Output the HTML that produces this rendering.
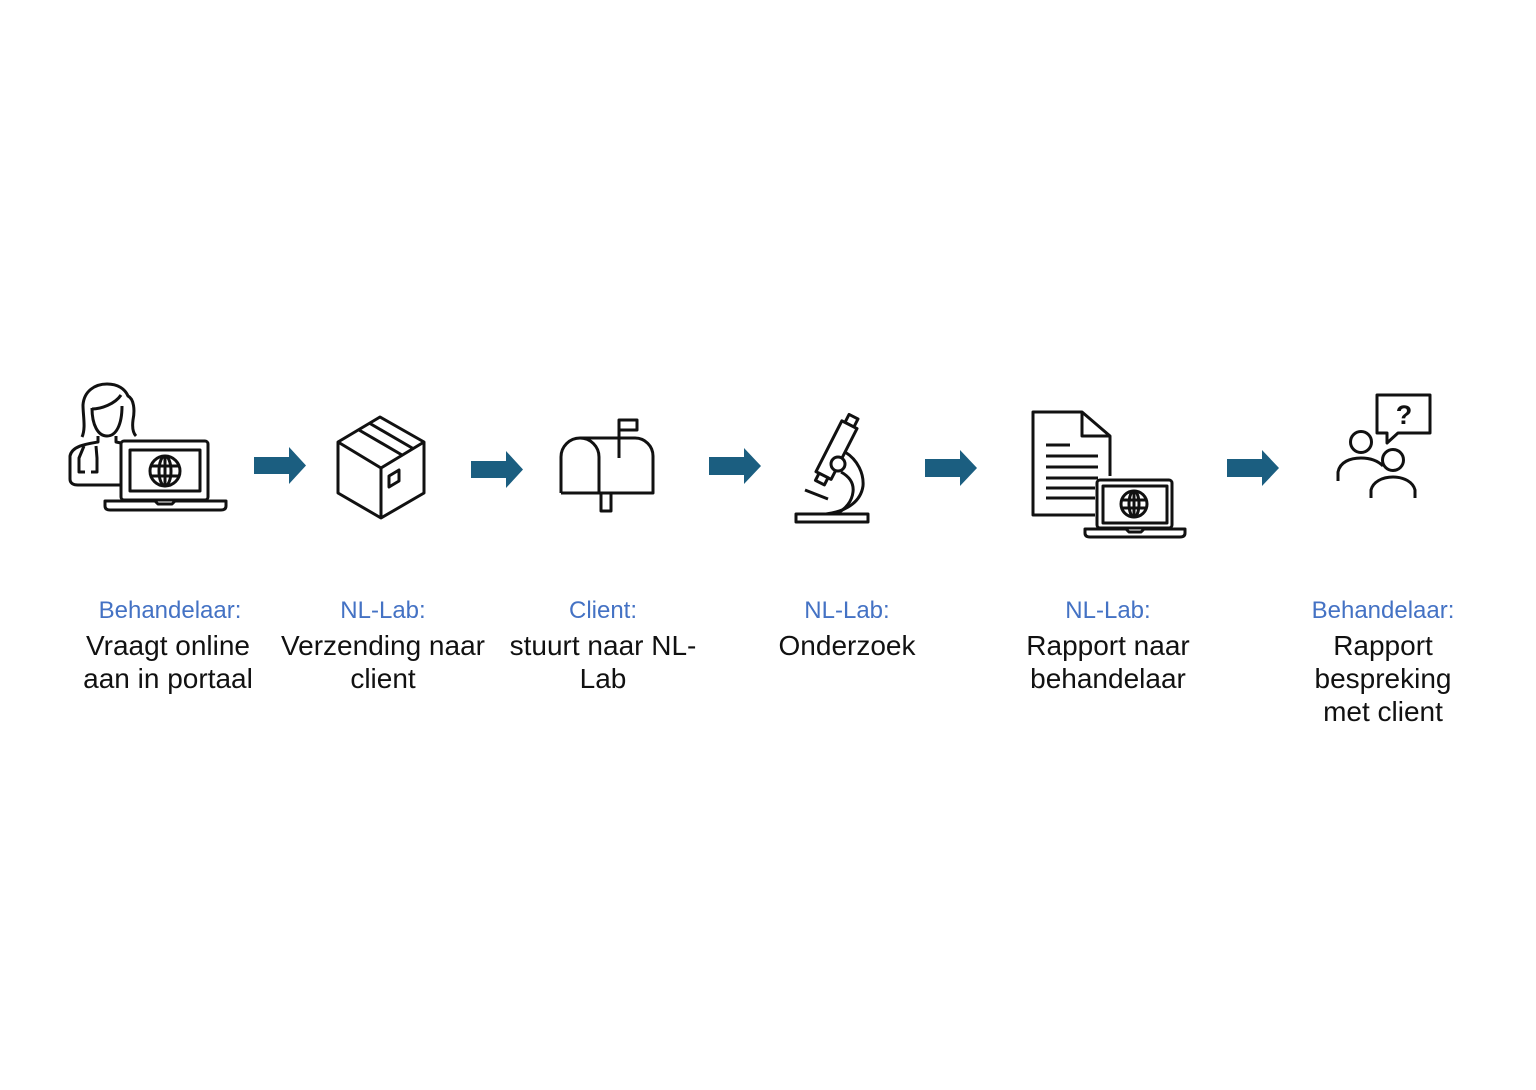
<!DOCTYPE html>
<html>
<head>
<meta charset="utf-8">
<style>
  html, body { margin: 0; padding: 0; background: #ffffff; }
  body { width: 1536px; height: 1090px; overflow: hidden; }
  svg { display: block; }
  .ic { fill: none; stroke: #111; stroke-width: 3; stroke-linejoin: round; stroke-linecap: butt; }
  .lbl { font-family: "Liberation Sans", sans-serif; font-size: 24px; fill: #4472c4; text-anchor: middle; }
  .txt { font-family: "Liberation Sans", sans-serif; font-size: 28px; fill: #111; text-anchor: middle; }
</style>
</head>
<body>
<svg width="1536" height="1090" viewBox="0 0 1536 1090" xmlns="http://www.w3.org/2000/svg">
  <rect x="0" y="0" width="1536" height="1090" fill="#ffffff"/>

  <!-- ===== Icon 1: doctor + laptop ===== -->
  <g class="ic">
    <!-- hair -->
    <path d="M82,437 C86,428 83,416 83,405 C84,391 95,384 107,384 C118,384 125,389 128,396 C134,399 135,410 133,420 C132,428 133,433 136,436"/>
    <!-- face -->
    <path d="M92,408 C92,425 98,436 107,436 C116,436 122,425 122,406"/>
    <path d="M92,409 C101,409 115,404 121,395"/>
    <!-- shoulders -->
    <path d="M98,436 L98,442 C86,444 72,446 70,456 L70,479 C70,483 73,485 78,485 L120,485"/>
    <path d="M116,436 L116,442 L121,443"/>
    <!-- stethoscope -->
    <path d="M84,446 L79,458 L79,472 L85,472"/>
    <path d="M96,446 L97,458 L97,472 L91,472"/>
    <!-- laptop -->
    <rect x="121" y="441" width="87" height="59" rx="3"/>
    <rect x="130" y="450" width="70" height="41"/>
    <circle cx="165" cy="471" r="15"/>
    <ellipse cx="165" cy="471" rx="6" ry="15"/>
    <line x1="150" y1="466" x2="180" y2="466"/>
    <line x1="150" y1="476" x2="180" y2="476"/>
    <line x1="165" y1="456" x2="165" y2="486"/>
    <path d="M105,501 L155,501 L158,504 L172,504 L175,501 L226,501 L226,506 C226,509 224,510 221,510 L110,510 C107,510 105,509 105,506 Z"/>
  </g>

  <!-- ===== Icon 2: box ===== -->
  <g class="ic">
    <polygon points="380,417 424,442 424,493 381,518 338,493 338,442"/>
    <polyline points="338,442 381,468 424,442"/>
    <line x1="381" y1="468" x2="381" y2="518"/>
    <line x1="359" y1="430" x2="402" y2="455"/>
    <line x1="370" y1="423.5" x2="413" y2="448.5"/>
    <polygon points="389,476 399,470 399,481 389,487"/>
  </g>

  <!-- ===== Icon 3: mailbox ===== -->
  <g class="ic">
    <path d="M561,493 L561,457 A19,19 0 0 1 599,457 L599,493"/>
    <path d="M580,438 L635,438 A18,18 0 0 1 653,456 L653,493 L561,493"/>
    <path d="M619,458 L619,420 L637,420 L637,430 L619,430"/>
    <rect x="601" y="493" width="10" height="18"/>
  </g>

  <!-- ===== Icon 4: microscope ===== -->
  <g class="ic">
    <path d="M845,452 C858,460 864,474 863,486 C861,500 849,511 826,514"/>
    <path d="M841,472 C850,477 854,484 853,492 C852,501 846,509 836,514"/>
    <g transform="translate(834,455) rotate(27)">
      <rect x="-5" y="-43" width="10" height="9" fill="#fff"/>
      <rect x="-8.5" y="-34" width="17" height="57" fill="#fff"/>
      <rect x="-5" y="23" width="10" height="8" fill="#fff"/>
    </g>
    <circle cx="838" cy="464" r="7" fill="#fff"/>
    <line x1="805" y1="490" x2="828" y2="499"/>
    <rect x="796" y="514" width="72" height="8"/>
  </g>

  <!-- ===== Icon 5: document + laptop ===== -->
  <g class="ic">
    <path d="M1095,515 L1033,515 L1033,412 L1082,412 L1110,436 L1110,476"/>
    <path d="M1082,412 L1082,436 L1110,436"/>
    <line x1="1046" y1="445" x2="1070" y2="445"/>
    <line x1="1046" y1="456" x2="1098" y2="456"/>
    <line x1="1046" y1="467" x2="1098" y2="467"/>
    <line x1="1046" y1="478" x2="1098" y2="478"/>
    <line x1="1046" y1="488" x2="1095" y2="488"/>
    <line x1="1046" y1="498" x2="1095" y2="498"/>
    <rect x="1097" y="480" width="75" height="48" rx="3"/>
    <rect x="1103" y="486" width="64" height="37"/>
    <circle cx="1134" cy="504" r="13"/>
    <ellipse cx="1134" cy="504" rx="5" ry="13"/>
    <line x1="1121" y1="500" x2="1147" y2="500"/>
    <line x1="1121" y1="508" x2="1147" y2="508"/>
    <line x1="1134" y1="491" x2="1134" y2="517"/>
    <path d="M1085,529 L1126,529 L1129,532 L1141,532 L1144,529 L1185,529 L1185,533 C1185,536 1183,537 1180,537 L1090,537 C1087,537 1085,536 1085,533 Z"/>
  </g>

  <!-- ===== Icon 6: people + question ===== -->
  <g class="ic">
    <path d="M1387,433 L1377,433 L1377,395 L1430,395 L1430,433 L1398,433 L1387,443 Z"/>
    <circle cx="1361" cy="442" r="10.5"/>
    <path d="M1338,481 L1338,472 C1340,462 1350,458 1361,458 C1371,458 1378,461 1383,466"/>
    <circle cx="1393" cy="460" r="10.5"/>
    <path d="M1371,498 L1371,490 C1373,482 1382,477 1393,477 C1404,477 1413,482 1415,490 L1415,498"/>
  </g>
  <text x="1404" y="424" font-family="Liberation Sans, sans-serif" font-size="27" font-weight="bold" fill="#111" text-anchor="middle">?</text>

  <!-- ===== Arrows ===== -->
  <g fill="#1b5e80">
    <polygon points="254,457 289,457 289,447 306,465.5 289,484 289,474 254,474"/>
    <polygon points="471,461 506,461 506,451 523,469.5 506,488 506,478 471,478"/>
    <polygon points="709,457 744,457 744,448 761,466 744,484 744,475 709,475"/>
    <polygon points="925,459 960,459 960,450 977,468 960,486 960,477 925,477"/>
    <polygon points="1227,459 1262,459 1262,450 1279,468 1262,486 1262,477 1227,477"/>
  </g>

  <!-- ===== Labels ===== -->
  <text class="lbl" x="170" y="618">Behandelaar:</text>
  <text class="txt" x="168" y="655">Vraagt online</text>
  <text class="txt" x="168" y="688">aan in portaal</text>

  <text class="lbl" x="383" y="618">NL-Lab:</text>
  <text class="txt" x="383" y="655">Verzending naar</text>
  <text class="txt" x="383" y="688">client</text>

  <text class="lbl" x="603" y="618">Client:</text>
  <text class="txt" x="603" y="655">stuurt naar NL-</text>
  <text class="txt" x="603" y="688">Lab</text>

  <text class="lbl" x="847" y="618">NL-Lab:</text>
  <text class="txt" x="847" y="655">Onderzoek</text>

  <text class="lbl" x="1108" y="618">NL-Lab:</text>
  <text class="txt" x="1108" y="655">Rapport naar</text>
  <text class="txt" x="1108" y="688">behandelaar</text>

  <text class="lbl" x="1383" y="618">Behandelaar:</text>
  <text class="txt" x="1383" y="655">Rapport</text>
  <text class="txt" x="1383" y="688">bespreking</text>
  <text class="txt" x="1383" y="721">met client</text>
</svg>
</body>
</html>
